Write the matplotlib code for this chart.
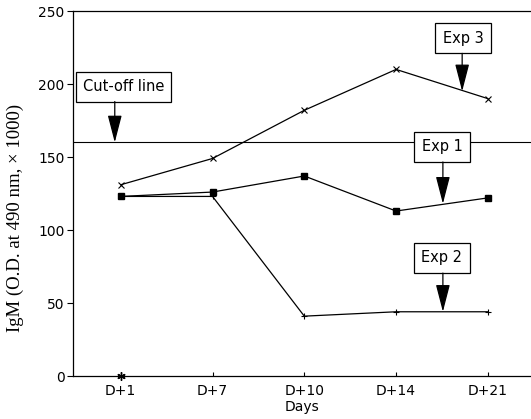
import matplotlib.pyplot as plt
import numpy as np

# data
days = ['D+1', 'D+7', 'D+10', 'D+14', 'D+21']
exp1 = [123, 126, 137, 113, 122]
exp2 = [123, 123, 41, 44, 44]
exp3 = [131, 149, 182, 210, 190]
cutoff = 160
baseline_point = 0

x = np.arange(len(days))

fig = plt.figure(figsize=(5.31, 4.19), dpi=100)
ax = fig.add_axes([0.1375, 0.1026, 0.8625, 0.8711])

sans = 'DejaVu Sans'

ax.axhline(cutoff, color='black', lw=0.8, zorder=1)
ax.plot(x, exp3, color='black', lw=0.9, marker='x', ms=4, mew=0.8)
ax.plot(x, exp1, color='black', lw=0.9, marker='s', ms=4.5, mfc='black')
ax.plot(x, exp2, color='black', lw=0.9, marker='+', ms=5, mew=0.8)
ax.plot([x[0]], [baseline_point], color='black', marker=(6, 2, 0), ms=6,
        mew=1.0, clip_on=False, zorder=5)

ax.set_xlim(-0.52, 4.47)
ax.set_ylim(0, 250)
ax.set_yticks([0, 50, 100, 150, 200, 250])
ax.set_xticks(x)
ax.set_xticklabels(days, fontfamily=sans, fontsize=10)
for lab in ax.get_yticklabels():
    lab.set_fontfamily(sans)
    lab.set_fontsize(10)
ax.tick_params(axis='y', direction='out', length=4, width=0.8, pad=2)
ax.tick_params(axis='x', direction='in', length=3, width=0.8, pad=6)

ax.spines['right'].set_visible(False)
for s in ['left', 'bottom', 'top']:
    ax.spines[s].set_linewidth(0.9)

ax.set_xlabel('Days', fontfamily=sans, fontsize=10, labelpad=1)
ax.set_ylabel('IgM (O.D. at 490 nm, \u00d7 1000)', fontfamily='Liberation Serif',
              fontsize=13.5)
ax.yaxis.set_label_coords(-0.108, 0.433)

# boxed labels with arrows
labels = [
    ('Cut-off line', 0.03, 198, 188, -0.065, 160),
    ('Exp 3', 3.73, 231.5, 221, 3.72, 195),
    ('Exp 1', 3.50, 157, 146.6, 3.51, 118),
    ('Exp 2', 3.50, 81, 70.5, 3.51, 44),
]
for txt, tx, ty, y0, ax_x, y1 in labels:
    ax.text(tx, ty, txt, ha='center', va='center', fontfamily=sans, fontsize=10.5,
            bbox=dict(boxstyle='square,pad=0.5', fc='white', ec='black', lw=0.9),
            zorder=6)
    ax.annotate('', xy=(ax_x, y1), xytext=(ax_x, y0),
                arrowprops=dict(arrowstyle='-|>,head_length=0.85,head_width=0.22',
                                color='black', lw=0.9, shrinkA=0, shrinkB=0,
                                mutation_scale=20),
                zorder=6)

fig.savefig('out.png', dpi=100)
